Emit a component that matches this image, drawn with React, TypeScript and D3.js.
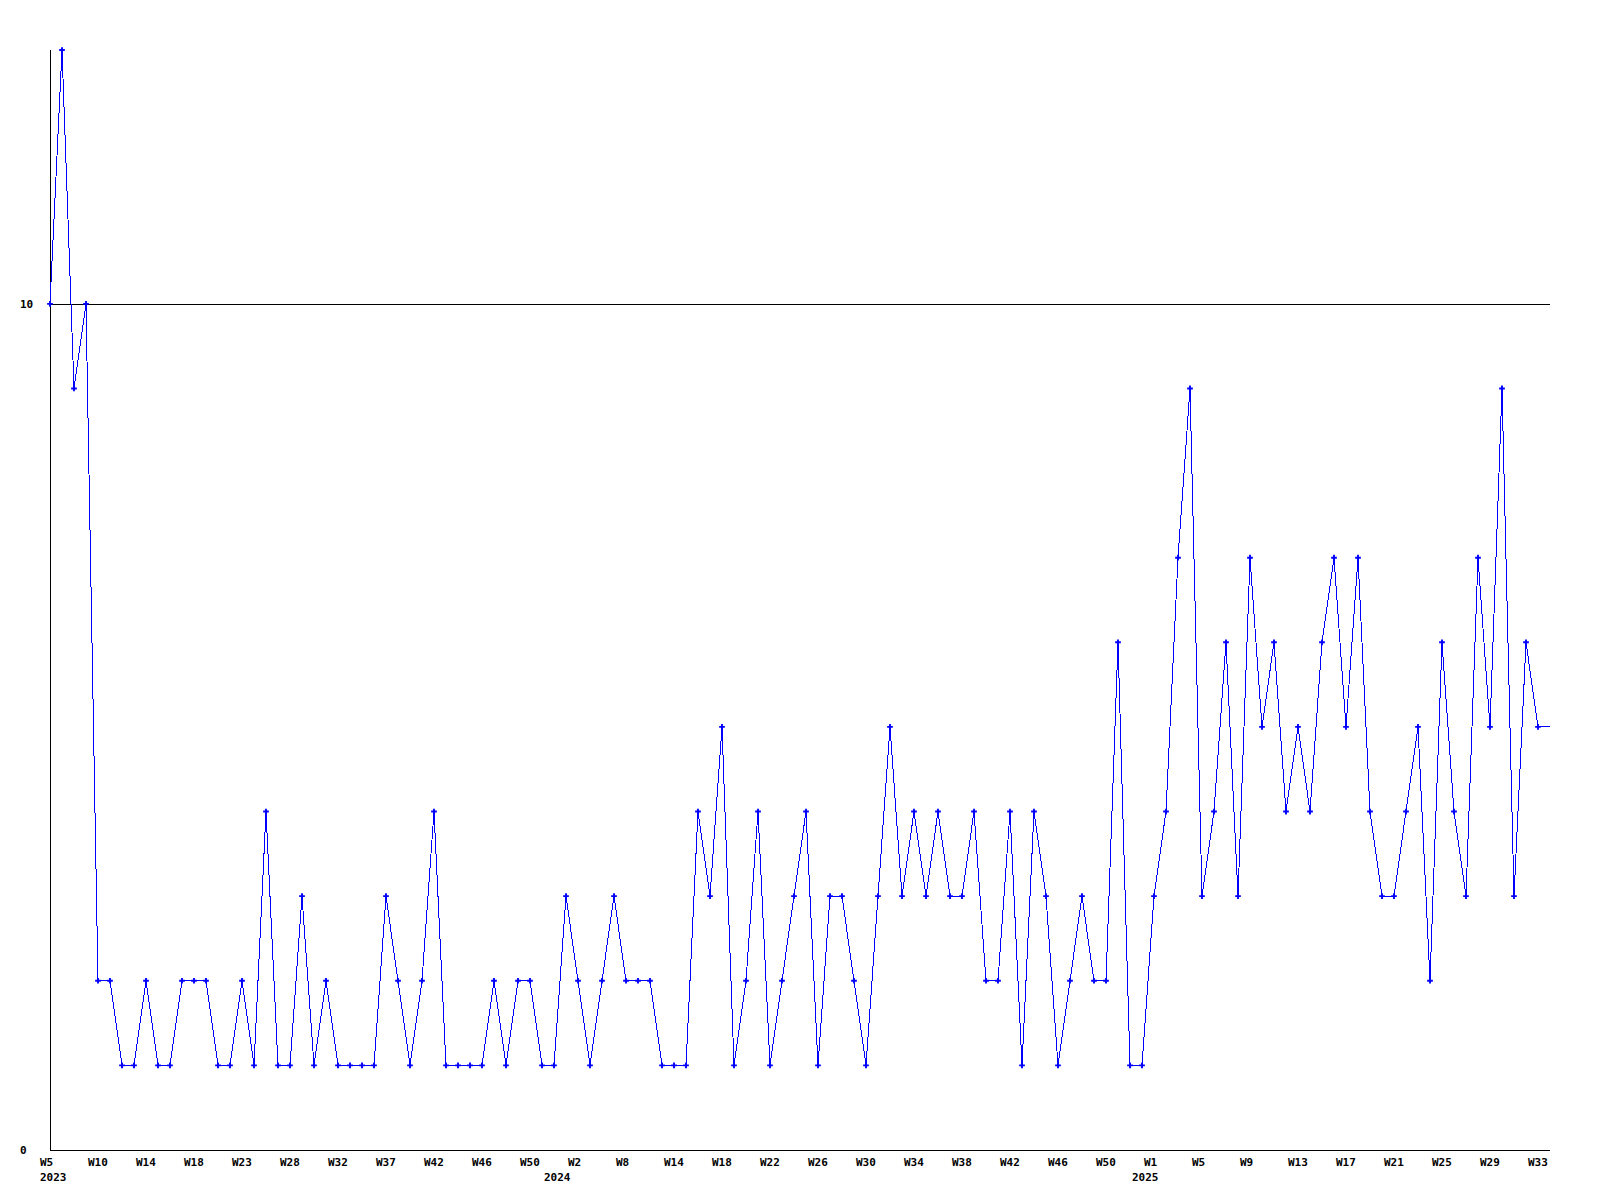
import { useEffect, useRef } from 'react'
import * as d3 from 'd3'

// weekly counts, 2023 W5 .. 2025 W34 (some weeks have no data and are skipped)
const counts = [
  10, 13, 9, 10, 2, 2, 1, 1, 2, 1, 1, 2, 2, 2, 1, 1, 2, 1, 4, 1,
  1, 3, 1, 2, 1, 1, 1, 1, 3, 2, 1, 2, 4, 1, 1, 1, 1, 2, 1, 2,
  2, 1, 1, 3, 2, 1, 2, 3, 2, 2, 2, 1, 1, 1, 4, 3, 5, 1, 2, 4,
  1, 2, 3, 4, 1, 3, 3, 2, 1, 3, 5, 3, 4, 3, 4, 3, 3, 4, 2, 2,
  4, 1, 4, 3, 1, 2, 3, 2, 2, 6, 1, 1, 3, 4, 7, 9, 3, 4, 6, 3,
  7, 5, 6, 4, 5, 4, 6, 7, 5, 7, 4, 3, 3, 4, 5, 2, 6, 4, 3, 7,
  5, 9, 3, 6, 5, 5,
]

// one label every 4 points
const weekLabels = [
  'W5', 'W10', 'W14', 'W18', 'W23', 'W28', 'W32', 'W37', 'W42', 'W46', 'W50',
  'W2', 'W8', 'W14', 'W18', 'W22', 'W26', 'W30', 'W34', 'W38', 'W42', 'W46', 'W50',
  'W1', 'W5', 'W9', 'W13', 'W17', 'W21', 'W25', 'W29', 'W33',
]
const years = ['2023', '2024', '2025']
const yearStart = [0, 42, 91]
const yTicks = [0, 10]

export default function App() {
  const svgRef = useRef<SVGSVGElement>(null)

  useEffect(() => {
    if (!svgRef.current) return
    const width = 1600
    const height = 1200
    const left = 50
    const right = 1550
    const top = 50
    const bottom = 1150
    const font = 'bold 11px "DejaVu Sans Mono", "Liberation Mono", monospace'

    const svg = d3.select(svgRef.current)
      .attr('width', width)
      .attr('height', height)
    svg.selectAll('*').remove()

    const x = d3.scaleLinear().domain([0, counts.length - 1]).range([left, right])
    const y = d3.scaleLinear().domain([0, 13]).range([bottom, top])

    svg.append('rect').attr('width', width).attr('height', height).attr('fill', '#fff')

    // gridline at 10
    svg.append('line')
      .attr('x1', left).attr('x2', right)
      .attr('y1', Math.round(y(10)) + 0.5).attr('y2', Math.round(y(10)) + 0.5)
      .attr('stroke', '#000').attr('shape-rendering', 'crispEdges')

    // axes
    svg.append('line')
      .attr('x1', left + 0.5).attr('x2', left + 0.5)
      .attr('y1', top).attr('y2', bottom)
      .attr('stroke', '#000').attr('shape-rendering', 'crispEdges')
    svg.append('line')
      .attr('x1', left).attr('x2', right)
      .attr('y1', bottom + 0.5).attr('y2', bottom + 0.5)
      .attr('stroke', '#000').attr('shape-rendering', 'crispEdges')

    svg.append('g')
      .selectAll('text')
      .data(yTicks)
      .join('text')
      .attr('x', 20)
      .attr('y', d => y(d) + 4)
      .style('font', font)
      .text(d => d)

    svg.append('g')
      .selectAll('text')
      .data(weekLabels)
      .join('text')
      .attr('x', (_, i) => x(i * 4) - 10)
      .attr('y', 1166)
      .style('font', font)
      .text(d => d)

    svg.append('g')
      .selectAll('text')
      .data(years)
      .join('text')
      .attr('x', (_, i) => x(yearStart[i]) - 10)
      .attr('y', 1181)
      .style('font', font)
      .text(d => d)

    const line = d3.line<number>()
      .x((_, i) => x(i))
      .y(d => y(d))

    svg.append('path')
      .datum(counts)
      .attr('d', line)
      .attr('fill', 'none')
      .attr('stroke', '#0000ff')
      .attr('stroke-width', 1)
      .attr('shape-rendering', 'crispEdges')

    svg.append('g')
      .selectAll('path')
      .data(counts.slice(0, -1))
      .join('path')
      .attr('transform', (d, i) => `translate(${x(i)},${y(d)})`)
      .attr('d', d3.symbol(d3.symbolCross, 18))
      .attr('fill', '#0000ff')
  }, [])

  return <svg ref={svgRef} style={{ position: 'absolute', left: 0, top: 0 }} />
}
